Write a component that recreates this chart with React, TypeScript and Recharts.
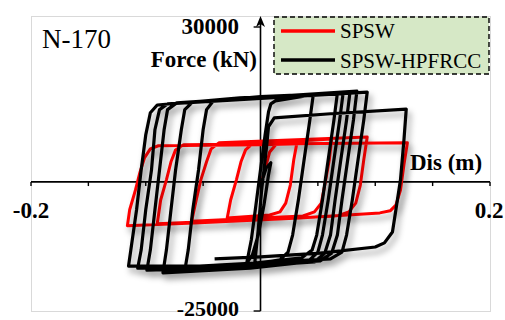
import { LineChart, Line, XAxis, YAxis, ReferenceLine } from "recharts";

// SPSW loops (displacement in m, force in kN)
const spswDis = [
  0.001, 0.005, 0.008, 0.014, 0.032, 0.029, 0.026, 0.022, 0.017, 0.008,
  -0.029, -0.026, -0.021, -0.017, -0.013, -0.007, 0.062, 0.06, 0.056, 0.053,
  0.047, 0.037, -0.06, -0.056, -0.052, -0.047, -0.043, -0.036, 0.093, 0.09,
  0.087, 0.083, 0.077, 0.067, -0.09, -0.087, -0.082, -0.078, -0.074, -0.067,
  0.128, 0.125, 0.122, 0.118, 0.113, 0.104, 0.034, -0.053, -0.116, -0.114,
  -0.109, -0.105, -0.101, -0.096, -0.089, 0.0, 0.034,
];
const spswForce = [
  0, 3300, 5800, 7400, 7900, 4300, -600, -4100, -5800, -6400,
  -7000, -3500, 400, 3900, 6200, 7400, 8300, 4300, -600, -4100,
  -5800, -6600, -7600, -3500, 400, 3900, 6400, 7600, 8700, 4300,
  -600, -4100, -5800, -6600, -8100, -3500, 400, 3900, 6200, 7200,
  7600, 3300, -1600, -4500, -5600, -6000, -7000, -7900, -8500, -5400,
  -1600, 1900, 4700, 6400, 7000, 7200, 7400,
];

// SPSW-HPFRCC loops
const hpfrccDis = [
  0.001, 0.005, 0.009, 0.007, 0.003, -0.002, -0.007, -0.012, -0.008, -0.004,
  0.0, 0.004, 0.007, 0.009, 0.013, 0.046, 0.043, 0.038, 0.033, 0.028,
  0.024, 0.017, -0.027, -0.066, -0.063, -0.059, -0.054, -0.05, -0.047, -0.041,
  0.0, 0.072, 0.069, 0.064, 0.059, 0.054, 0.05, 0.041, -0.009, -0.085,
  -0.082, -0.078, -0.074, -0.069, -0.066, -0.059, 0.078, 0.075, 0.07, 0.065,
  0.061, 0.056, 0.047, -0.035, -0.099, -0.096, -0.092, -0.088, -0.084, -0.081,
  -0.073, 0.084, 0.081, 0.076, 0.071, 0.067, 0.062, 0.052, -0.053, -0.107,
  -0.104, -0.1, -0.095, -0.092, -0.088, -0.081, 0.093, 0.09, 0.085, 0.08,
  0.075, 0.071, 0.061, -0.053, -0.115, -0.113, -0.108, -0.104, -0.1, -0.096,
  -0.09, -0.018, 0.067, 0.064, 0.059, 0.054, 0.049, 0.045, 0.036, -0.005,
  -0.002, 0.001, 0.005, 0.007, 0.012, 0.061, 0.127, 0.125, 0.122, 0.118,
  0.115, 0.108, 0.1, 0.052, 0.0, -0.04,
];
const hpfrccForce = [
  0, 2700, 3700, 1400, -4500, -10300, -14100, -15700, -11200, -4500,
  2300, 9100, 13600, 15100, 15700, 16900, 12000, 4300, -3500, -10300,
  -13600, -15100, -16700, -17200, -13200, -5400, 2300, 10100, 14000, 15700,
  16500, 17200, 12000, 4300, -3500, -10300, -13600, -15500, -16700, -17600,
  -13200, -5400, 2300, 10100, 14000, 15500, 17400, 12000, 4300, -3500,
  -10300, -13800, -15500, -16700, -17100, -13200, -5400, 2300, 10100, 14000,
  15300, 17600, 12000, 4300, -3500, -10300, -13800, -15300, -16700, -16700,
  -13200, -5400, 2300, 10100, 14000, 15100, 17400, 12000, 4300, -3500,
  -10300, -13600, -14900, -16300, -16300, -13200, -5400, 2300, 9100, 13400,
  14900, 16300, 17200, 12000, 4300, -3500, -10300, -13200, -14700, -15700,
  -9300, -1600, 6200, 10700, 12400, 13200, 14100, 8100, 400, -5400,
  -9700, -11800, -12600, -13800, -14500, -14900,
];

const xTicks = [-0.2, -0.15, -0.1, -0.05, 0.05, 0.1, 0.15, 0.2];
const yTicks = [-25000, 30000];

const toRows = (dis: number[], force: number[]) =>
  dis.map((d, i) => ({ dis: d, force: force[i] }));

const serif = '"Liberation Serif", "Times New Roman", serif';

// y axis with arrow on top
const ArrowAxis = (props: any) => {
  const { x1, y1, y2 } = props;
  const top = Math.min(y1, y2) - 10;
  const bottom = Math.max(y1, y2);
  return (
    <g>
      <line x1={x1} y1={bottom} x2={x1} y2={top + 4} stroke="#000" strokeWidth={1.6} />
      <path
        d={`M${x1},${top - 1} L${x1 + 4.5},${top + 10} L${x1},${top + 7} L${x1 - 4.5},${top + 10} Z`}
        fill="#000"
      />
    </g>
  );
};

export default function App() {
  const spswRows = toRows(spswDis, spswForce);
  const hpfrccRows = toRows(hpfrccDis, hpfrccForce);

  return (
    <div style={{ position: "absolute", left: 0, top: 0, width: 505, height: 320, background: "#fff" }}>
      <style>{`.loop .recharts-line-curve{filter:drop-shadow(3px 5px 3px rgba(0,0,0,0.38));}`}</style>
      <div
        style={{
          position: "absolute",
          left: 31,
          top: 16,
          width: 458,
          height: 294,
          border: "1px solid #d9d9d9",
        }}
      />
      <div style={{ position: "absolute", left: 0, top: 0 }}>
        <LineChart width={505} height={320} margin={{ top: 27, right: 15, bottom: 9, left: 31 }}>
          <XAxis type="number" dataKey="dis" domain={[-0.2, 0.2]} allowDataOverflow hide />
          <YAxis type="number" domain={[-25000, 30000]} allowDataOverflow hide />
          <ReferenceLine y={0} stroke="#000" strokeWidth={1.6} />
          <ReferenceLine x={0} stroke="#000" shape={ArrowAxis} />
          {xTicks.map((t) => (
            <ReferenceLine
              key={t}
              segment={[{ x: t, y: 0 }, { x: t, y: -800 }]}
              stroke="#000"
              strokeWidth={1.4}
              ifOverflow="visible"
            />
          ))}
          {yTicks.map((t) => (
            <ReferenceLine
              key={t}
              segment={[{ x: -0.006, y: t }, { x: 0, y: t }]}
              stroke="#000"
              strokeWidth={1.4}
              ifOverflow="visible"
            />
          ))}
          <Line
            className="loop"
            data={spswRows}
            dataKey="force"
            name="SPSW"
            type="linear"
            stroke="#ff0000"
            strokeWidth={3}
            strokeLinejoin="round"
            dot={false}
            activeDot={false}
            isAnimationActive={false}
          />
          <Line
            className="loop"
            data={hpfrccRows}
            dataKey="force"
            name="SPSW-HPFRCC"
            type="linear"
            stroke="#000"
            strokeWidth={3.2}
            strokeLinejoin="round"
            dot={false}
            activeDot={false}
            isAnimationActive={false}
          />
        </LineChart>
      </div>
      <svg
        width={505}
        height={320}
        style={{ position: "absolute", left: 0, top: 0, pointerEvents: "none" }}
        fontFamily={serif}
      >
        <text x={42} y={48} fontSize={27}>N-170</text>
        <text x={239} y={34} fontSize={23} fontWeight="bold" textAnchor="end">30000</text>
        <text x={257} y={67} fontSize={23} fontWeight="bold" textAnchor="end">Force (kN)</text>
        <text x={410} y={170} fontSize={23} fontWeight="bold">Dis (m)</text>
        <text x={31} y={218} fontSize={23} fontWeight="bold" textAnchor="middle">-0.2</text>
        <text x={489} y={218} fontSize={23} fontWeight="bold" textAnchor="middle">0.2</text>
        <text x={239} y={316} fontSize={22} fontWeight="bold" textAnchor="end">-25000</text>
        <g transform="translate(274,17)">
          <rect x={0} y={0} width={215} height={57} fill="#d6e8c6" stroke="#000" strokeWidth={1.4} strokeDasharray="5 3" />
          <line x1={7} y1={14} x2={61} y2={14} stroke="#ff0000" strokeWidth={3.5} />
          <line x1={7} y1={43} x2={61} y2={43} stroke="#000" strokeWidth={3.5} />
          <text x={66} y={21} fontSize={21}>SPSW</text>
          <text x={66} y={51} fontSize={21}>SPSW-HPFRCC</text>
        </g>
      </svg>
    </div>
  );
}
